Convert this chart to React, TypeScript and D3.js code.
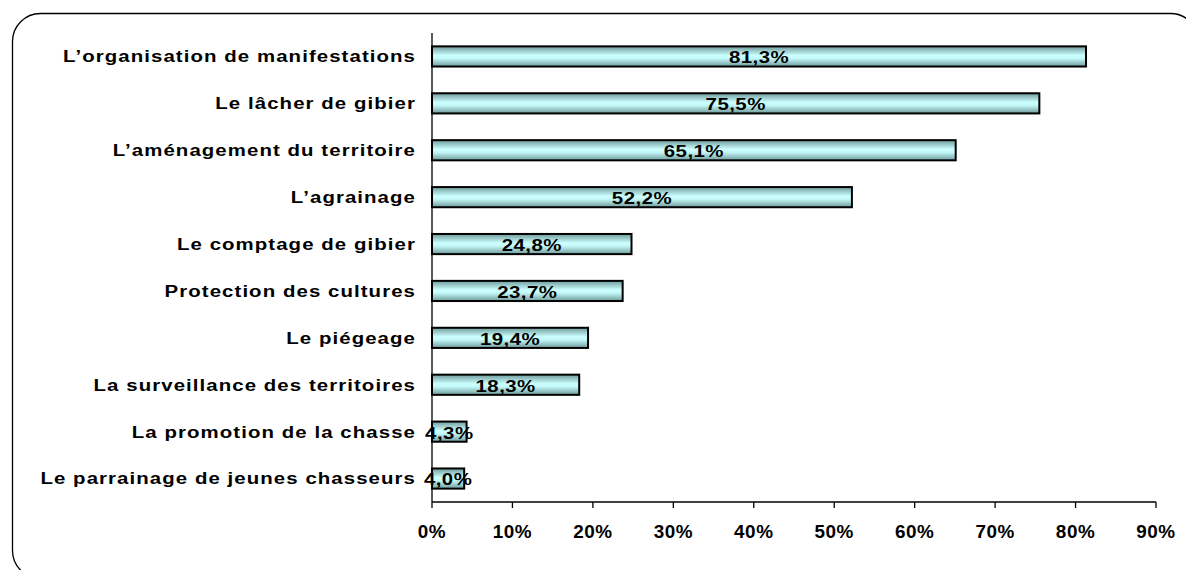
import React from "react";
import * as d3 from "d3";

const categories = [
  "L\u2019organisation de manifestations",
  "Le lâcher de gibier",
  "L\u2019aménagement du territoire",
  "L\u2019agrainage",
  "Le comptage de gibier",
  "Protection des cultures",
  "Le piégeage",
  "La surveillance des territoires",
  "La promotion de la chasse",
  "Le parrainage de jeunes chasseurs",
];
const values = [81.3, 75.5, 65.1, 52.2, 24.8, 23.7, 19.4, 18.3, 4.3, 4.0];
const valueLabels = ["81,3%", "75,5%", "65,1%", "52,2%", "24,8%", "23,7%", "19,4%", "18,3%", "4,3%", "4,0%"];
const ticks = [0, 10, 20, 30, 40, 50, 60, 70, 80, 90];

export default function App() {
  const W = 1186, H = 570;
  const x0 = 432, x1 = 1156, yTop = 33, yBot = 502;
  const x = d3.scaleLinear().domain([0, 90]).range([x0, x1]);
  const y = d3.scaleBand<string>().domain(categories).range([yTop, yBot]).paddingInner(0.57).paddingOuter(0.285);
  const font = "Arial, 'Liberation Sans', sans-serif";
  const sx = 1.2;
  return (
    <svg width={W} height={H} style={{ position: "absolute", left: 0, top: 0 }}>
      <defs>
        <linearGradient id="barGrad" x1="0" y1="0" x2="0" y2="1">
          <stop offset="0" stopColor="#6f9a9a" />
          <stop offset="0.45" stopColor="#ccffff" />
          <stop offset="0.6" stopColor="#c4f7f7" />
          <stop offset="1" stopColor="#6f9a9a" />
        </linearGradient>
      </defs>
      <rect x={0} y={0} width={W} height={H} fill="#fff" />
      <rect x={12.5} y={13.5} width={1186} height={565} rx={28} ry={28} fill="none" stroke="#000" strokeWidth={1.3} />
      {categories.map((c, i) => (
        <g key={c}>
          <rect
            x={x(0)}
            y={y(c)!}
            width={x(values[i]) - x(0)}
            height={y.bandwidth()}
            fill="url(#barGrad)"
            stroke="#000"
            strokeWidth={2}
          />
          <text
            transform={`translate(416,${y(c)! + y.bandwidth() / 2}) scale(${sx},1)`}
            textAnchor="end"
            dominantBaseline="central"
            fontFamily={font}
            fontWeight="bold"
            fontSize={17}
            letterSpacing={0.9}
          >
            {c}
          </text>
          <text
            transform={`translate(${(x(0) + x(values[i])) / 2},${y(c)! + y.bandwidth() / 2 + 1}) scale(${sx},1)`}
            textAnchor="middle"
            dominantBaseline="central"
            fontFamily={font}
            fontWeight="bold"
            fontSize={17}
            letterSpacing={0.4}
          >
            {valueLabels[i]}
          </text>
        </g>
      ))}
      <line x1={x0} x2={x0} y1={yTop} y2={yBot} stroke="#000" strokeWidth={1.3} />
      <line x1={x0} x2={x1} y1={yBot} y2={yBot} stroke="#000" strokeWidth={1.3} />
      {ticks.map((t) => (
        <g key={t}>
          <line x1={x(t)} x2={x(t)} y1={yBot} y2={yBot + 6} stroke="#000" strokeWidth={1.3} />
          <text
            transform={`translate(${x(t)},532) scale(1.05,1)`}
            textAnchor="middle"
            dominantBaseline="central"
            fontFamily={font}
            fontWeight="bold"
            fontSize={18}
            letterSpacing={0.5}
          >
            {t + "%"}
          </text>
        </g>
      ))}
    </svg>
  );
}
